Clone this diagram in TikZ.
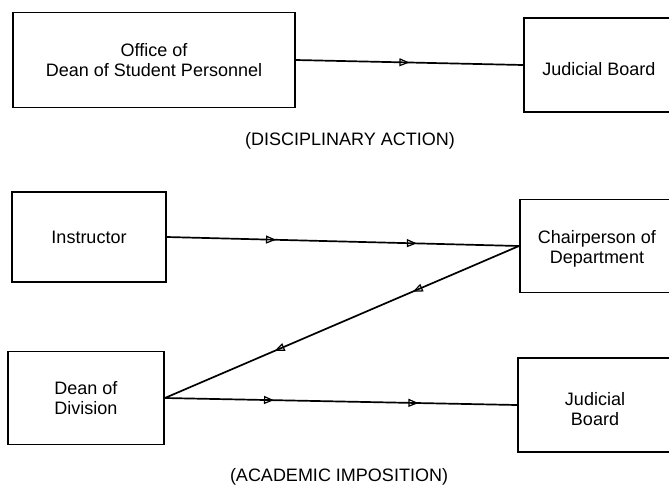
\documentclass[tikz,border=0pt]{standalone}
\usepackage{fontspec}
\setmainfont{Liberation Sans}
\usetikzlibrary{arrows.meta, decorations.markings}

\begin{document}
\begin{tikzpicture}[x=1pt, y=-1pt, line width=1.7pt,
    box/.style={draw, rectangle, inner sep=0pt},
    txt/.style={font=\fontsize{18}{20}\selectfont, align=center},
    midhead/.tip={Triangle[open, length=10pt, width=8pt, line width=1.2pt]},
    onearrow/.style={decoration={markings,
        mark=at position #1 with {\arrow{midhead}}}, postaction={decorate}},
    twoarrows/.style 2 args={decoration={markings,
        mark=at position #1 with {\arrow{midhead}},
        mark=at position #2 with {\arrow{midhead}}}, postaction={decorate}}]
        \useasboundingbox (0,0) rectangle (669,491);
        \clip (0,0) rectangle (669,491);

        % disciplinary action
        \node[box, txt, minimum width=282, minimum height=95] (office) at (154,60) {Office of\\Dean of Student Personnel};
        \node[box, anchor=west, minimum width=200, minimum height=94] (board) at (523,65) {};
        \node[txt] (boardtext) at (599,69) {Judicial Board};
        \node[txt] (discip) at (350,141) {(DISCIPLINARY ACTION)};

        \draw[onearrow=0.5] (office.east) -- (board.west);

        % academic imposition
        \node[box, txt, minimum width=154, minimum height=90] (instr) at (89,237) {Instructor};
        \node[box, anchor=west, minimum width=200, minimum height=93] (chair) at (519,246) {};
        \node[txt] (chairtext) at (597,249) {Chairperson of\\Department};
        \node[box, txt, minimum width=156, minimum height=93] (dean) at (86,398) {Dean of\\Division};
        \node[box, anchor=west, minimum width=200, minimum height=94] (board2) at (517,405) {};
        \node[txt] (board2text) at (595,409) {Judicial\\Board};
        \node[txt] (acad) at (339,477) {(ACADEMIC IMPOSITION)};

        \draw[twoarrows={0.31}{0.71}] (instr.east) -- (chair.west);
        \draw[twoarrows={0.30}{0.69}] (chair.west) -- (dean.east);
        \draw[twoarrows={0.31}{0.72}] (dean.east) -- (board2.west);
\end{tikzpicture}
\end{document}
